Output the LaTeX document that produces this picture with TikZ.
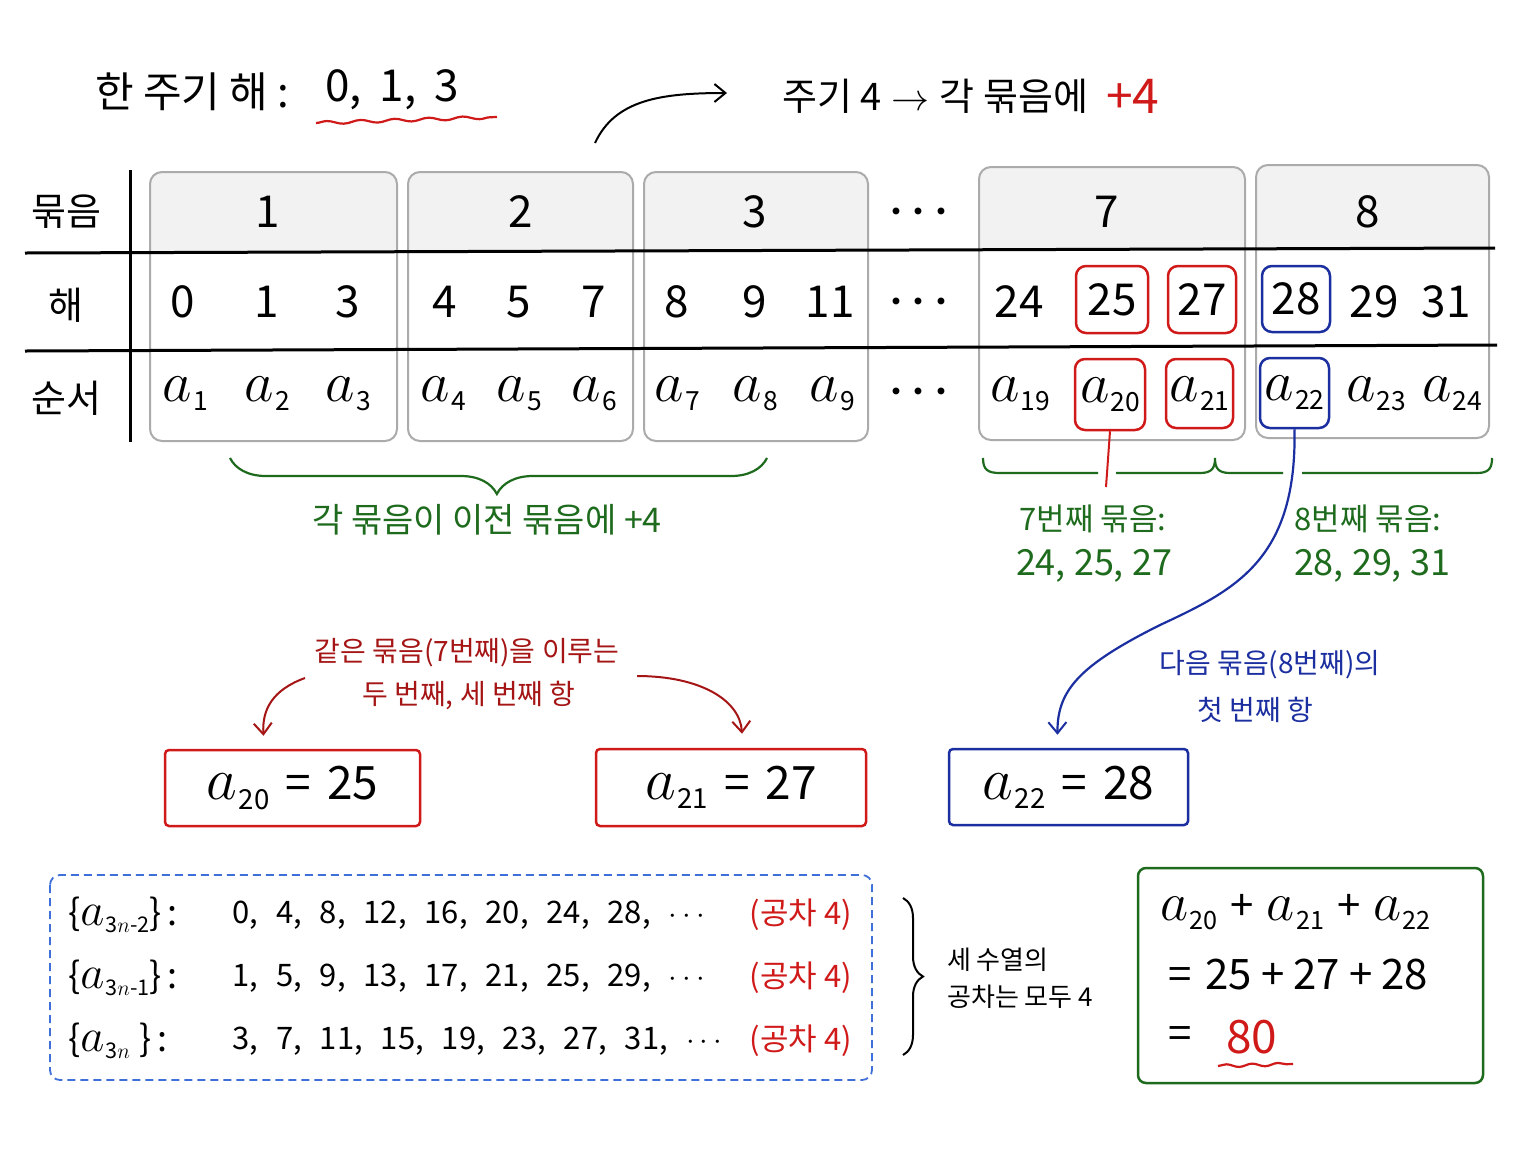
\RequirePackage{fix-cm}
\documentclass[tikz,border=0pt]{standalone}
\usepackage{amsmath}
\usepackage{fontspec}
\setmainfont{Noto Sans CJK KR}
\usetikzlibrary{arrows.meta,decorations.pathmorphing,decorations.pathreplacing,calc}
\definecolor{cred}{HTML}{D01A1A}
\definecolor{dred}{HTML}{A51515}
\definecolor{cgreen}{HTML}{1E6B1E}
\definecolor{cblue}{HTML}{1C2FA0}
\definecolor{lblue}{HTML}{3F6FD8}
\definecolor{cgray}{HTML}{ABABAB}
\definecolor{hgray}{HTML}{F2F2F2}
\newcommand\av[1]{\scalebox{1.3}{$a$}\kern0.03em\raisebox{-0.2em}{\scalebox{0.6}{#1}}}
\newcommand\fs[1]{\fontsize{#1}{#1}\selectfont}
\newcommand\cm{,\hspace{18pt}}
\tikzset{
  grp/.style={draw=cgray, line width=2pt, rounded corners=12pt},
  hl/.style={draw=#1, line width=2.5pt, rounded corners=10pt, inner sep=0pt},
  eqbox/.style={draw=#1, line width=2.5pt, rounded corners=4pt, inner sep=0pt, font=\fs{46}},
  tnum/.style={font=\fs{44}, inner sep=0pt},
  tlab/.style={font=\fs{38}, inner sep=0pt},
  barb/.style={-{Straight Barb[length=11pt,width=18pt,line width=2pt]}},
}
\begin{document}
\begin{tikzpicture}[x=1pt,y=-1pt]
\useasboundingbox (0,0) rectangle (1536,1152);
\fill[white] (0,0) rectangle (1536,1152);

% ---- title
\node[font=\fs{42}, anchor=west, inner sep=0pt] (t1) at (95,92) {한 주기 해 :};
\node[font=\fs{44}, anchor=west, inner sep=0pt] (t2) at (325,90) {0,\hspace{18pt}1,\hspace{18pt}3};
\draw[cred, line width=2.2pt, decorate, decoration={snake, amplitude=1.6pt, segment length=34pt}] (316,123) -- (497,117);
\coordinate (arS) at (595,143);
\coordinate (arE) at (727,93);
\draw[line width=2pt, barb] (arS) .. controls (615,100) and (660,93) .. (arE);
\node[font=\fs{38}, anchor=west, inner sep=0pt] (t3) at (782,96) {주기 4\hspace{10pt}$\rightarrow$\hspace{10pt}각 묶음에};
\node[font=\fs{48}, anchor=west, inner sep=0pt, text=cred] (t4) at (1106,96) {+4};

% ---- group boxes
\foreach \xa/\ya/\xb/\yb in {150/172/397/441, 408/172/633/441, 644/172/868/441, 979/167/1245/440, 1256/165/1489/438}{
  \begin{scope}
    \clip[rounded corners=12pt] (\xa,\ya) rectangle (\xb,\yb);
    \fill[hgray] (\xa,\ya) rectangle (\xb,251);
  \end{scope}
  \draw[grp] (\xa,\ya) rectangle (\xb,\yb);
}
% table lines
\draw[line width=3pt] (25,253) -- (1495,248);
\draw[line width=3pt] (25,351) -- (1497,345);
\draw[line width=3pt] (130,170) -- (130,442);

% row labels
\node[tlab] (l1) at (66,212) {묶음};
\node[tlab] (l2) at (66,305) {해};
\node[tlab] (l3) at (66,398) {순서};

% header numbers
\foreach \x/\t in {268/1, 521/2, 755/3, 1107/7, 1368/8}
  \node[tnum] (g\t) at (\x,212) {\t};
\foreach \y/\n in {212/a, 302/b, 392/c}
  \node[font=\fs{44}, inner sep=0pt] (dots\n) at (923,\y) {$\boldsymbol{\cdots}$};

% solutions row
\foreach \x/\t in {183/0, 267/1, 348/3, 445/4, 519/5, 594/7, 677/8, 755/9, 830/11, 1019/24, 1374/29, 1446/31}
  \node[tnum] (h\t) at (\x,302) {\t};
\node[hl=cred, minimum width=72pt, minimum height=67pt, font=\fs{44}] (b25) at (1112,299.5) {25};
\node[hl=cred, minimum width=68pt, minimum height=67pt, font=\fs{44}] (b27) at (1202,299.5) {27};
\node[hl=cblue, minimum width=68pt, minimum height=66pt, font=\fs{44}] (b28) at (1296,299) {28};

% order row
\foreach \x/\t in {185/1, 267/2, 348/3, 443/4, 519/5, 594/6, 677/7, 755/8, 832/9, 1020/19, 1376/23, 1452/24}
  \node[tnum] (s\t) at (\x,394) {\av{\t}};
\node[hl=cred, minimum width=70pt, minimum height=71pt, font=\fs{44}] (b20) at (1110,394.5) {\av{20}};
\node[hl=cred, minimum width=67pt, minimum height=69pt, font=\fs{44}] (b21) at (1199.5,393.5) {\av{21}};
\node[hl=cblue, minimum width=69pt, minimum height=70pt, font=\fs{44}] (b22) at (1294.5,393) {\av{22}};

% ---- braces under table
\draw[cgreen, line width=2.2pt, decorate, decoration={brace, mirror, amplitude=36pt, aspect=0.497}] (230,458) -- (767,458);
\node[font=\fs{34}, text=cgreen, inner sep=0pt] (n1) at (487,520) {각 묶음이 이전 묶음에 +4};
\draw[cgreen, line width=2.2pt] (983,458) .. controls (983,470) and (988,473) .. (1000,473) -- (1098,473);
\draw[cgreen, line width=2.2pt] (1116,473) -- (1200,473) .. controls (1212,473) and (1215,468) .. (1215,458)
   .. controls (1215,468) and (1218,473) .. (1230,473) -- (1283,473);
\draw[cgreen, line width=2.2pt] (1302,473) -- (1477,473) .. controls (1489,473) and (1492,468) .. (1492,458);
\node[font=\fs{31}, text=cgreen, inner sep=0pt] (n7a) at (1093,519) {7번째 묶음:};
\node[font=\fs{36}, text=cgreen, inner sep=0pt] (n7b) at (1094,566) {24, 25, 27};
\node[font=\fs{31}, text=cgreen, inner sep=0pt] (n8a) at (1368,519) {8번째 묶음:};
\node[font=\fs{36}, text=cgreen, inner sep=0pt] (n8b) at (1372,566) {28, 29, 31};

% ---- result boxes
\node[eqbox=cred, minimum width=255pt, minimum height=76pt] (e20) at (292.5,788) {\av{20}\hspace{16pt}=\hspace{16pt}25};
\node[eqbox=cred, minimum width=270pt, minimum height=77pt] (e21) at (731,787.5) {\av{21}\hspace{16pt}=\hspace{16pt}27};
\node[eqbox=cblue, minimum width=239pt, minimum height=76pt] (e22) at (1068.5,787) {\av{22}\hspace{16pt}=\hspace{16pt}28};

% red connector and blue curve
\coordinate (rl) at (1106,487);
\draw[cred, line width=2pt] (b20.south) -- (rl);
\draw[cblue, line width=2.2pt, barb] (b22.south) .. controls (1297,560) and (1235,590) .. (1160,625)
   .. controls (1080,665) and (1057,690) .. ($(e22.north)+(-11,-13)$);

% red notes
\node[font=\fs{28}, text=dred, inner sep=0pt] (r1) at (467,653) {같은 묶음(7번째)을 이루는};
\node[font=\fs{28}, text=dred, inner sep=0pt] (r2) at (469,695) {두 번째, 세 번째 항};
\draw[dred, line width=2pt, barb] (305,678) .. controls (272,690) and (262,710) .. ($(e20.north)+(-29,-13)$);
\draw[dred, line width=2pt, barb] (637,676) .. controls (700,676) and (740,700) .. ($(e21.north)+(11,-14)$);

% blue notes
\node[font=\fs{28}, text=cblue, inner sep=0pt] (u1) at (1270,665) {다음 묶음(8번째)의};
\node[font=\fs{28}, text=cblue, inner sep=0pt] (u2) at (1255,710) {첫 번째 항};

% ---- sequences box
\draw[lblue, line width=1.8pt, dash pattern=on 8pt off 5pt, rounded corners=10pt] (50,875) rectangle (872,1080);
\foreach \y/\lab/\seq [count=\i] in {
  915/{3$n$-2}/{0\cm 4\cm 8\cm 12\cm 16\cm 20\cm 24\cm 28\cm $\cdots$},
  978/{3$n$-1}/{1\cm 5\cm 9\cm 13\cm 17\cm 21\cm 25\cm 29\cm $\cdots$},
  1041/{3$n$\hspace{16pt}}/{3\cm 7\cm 11\cm 15\cm 19\cm 23\cm 27\cm 31\cm $\cdots$}}{
  \node[font=\fs{36}, anchor=west, inner sep=0pt] (q\i) at (68,\y) {\{\av{\lab}\}\,:};
  \node[font=\fs{31}, anchor=west, inner sep=0pt] (v\i) at (232,\y) {\seq};
  \node[font=\fs{31}, text=cred, inner sep=0pt] (c\i) at (801,\y) {(공차 4)};
}
\draw[line width=2pt, decorate, decoration={brace, amplitude=20pt}] (903,898) -- (903,1055);
\node[font=\fs{26}, anchor=west, inner sep=0pt] (w1) at (947,960) {세 수열의};
\node[font=\fs{26}, anchor=west, inner sep=0pt] (w2) at (947,997) {공차는 모두 4};

% ---- sum box
\draw[cgreen, line width=2.5pt, rounded corners=8pt] (1138,868) rectangle (1483,1083);
\node[font=\fs{42}, anchor=west, inner sep=0pt] (m1) at (1160,912) {\av{20}\hspace{13pt}+\hspace{13pt}\av{21}\hspace{13pt}+\hspace{13pt}\av{22}};
\node[font=\fs{42}, anchor=west, inner sep=0pt] (m2) at (1168,975) {=\hspace{14pt}25\hspace{9pt}+\hspace{9pt}27\hspace{9pt}+\hspace{9pt}28};
\node[font=\fs{42}, anchor=west, inner sep=0pt] (m3) at (1168,1037) {=};
\node[font=\fs{46}, anchor=west, inner sep=0pt, text=cred] (m4) at (1226,1037) {80};
\draw[cred, line width=2.2pt, decorate, decoration={snake, amplitude=1.5pt, segment length=26pt}] (1218,1066) -- (1293,1064);
\end{tikzpicture}
\end{document}
